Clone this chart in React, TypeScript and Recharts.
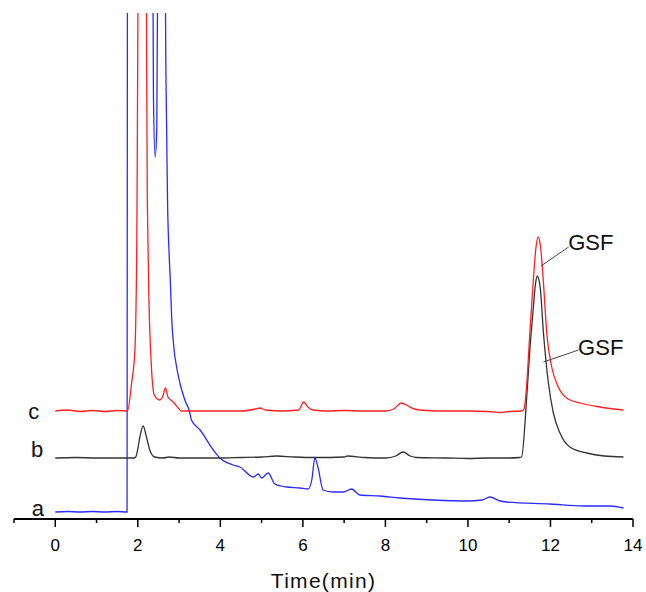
import { LineChart, Line, XAxis, YAxis, ReferenceLine, ReferenceDot } from 'recharts';

const FONT = 'Arial, "Liberation Sans", sans-serif';

// retention time (min) and detector signal above each trace's own baseline
const TIME_A = [
  0, 0.3, 0.6, 0.9, 1.2, 1.5, 1.74, 1.76, 2.1, 2.35, 2.38, 2.42, 2.46, 2.5, 2.58, 2.64,
  2.68, 2.7, 2.72, 2.755, 2.79, 2.82, 2.88, 2.94, 3.02, 3.14, 3.25, 3.3, 3.51, 3.83, 3.99,
  4.31, 4.47, 4.8, 4.92, 5.0, 5.16, 5.32, 5.6, 5.93, 6.13, 6.22, 6.29, 6.37, 6.49, 6.73,
  6.98, 7.18, 7.38, 7.87, 8.35, 9.15, 9.97, 10.35, 10.53, 10.78, 10.94, 11.99, 12.8, 13.44, 13.77,
];
const SIGNAL_A = [
  0, 0.5, 0, 0.5, 0, 0.5, 0, 1293, 1493, 693, 413, 355, 383, 693, 1293, 693,
  445, 379, 312, 262, 229, 195, 162, 145, 129, 112, 101, 92, 82, 62, 54,
  47, 45, 35, 38, 34, 39, 28, 25, 24, 23, 33, 54, 44, 22, 20,
  20, 23, 17, 16, 14, 12, 11, 12, 15, 11, 10, 8, 6, 6, 4,
];

const TIME_B = [
  0, 0.5, 1.0, 1.5, 1.9, 1.95, 2.0, 2.05, 2.13, 2.21, 2.29, 2.41, 2.6, 2.76, 3.0, 4.0,
  4.5, 5.0, 5.36, 5.8, 6.3, 7.0, 7.08, 7.5, 8.0, 8.25, 8.43, 8.6, 8.75, 9.5, 10.0, 10.5,
  11.0, 11.25, 11.3, 11.42, 11.5, 11.58, 11.64, 11.68, 11.75, 11.83, 11.95, 12.07, 12.23,
  12.47, 12.88, 13.3, 13.77,
];
const SIGNAL_B = [
  0, 0.5, 0, 0, 0, 1, 9, 21, 32, 21, 8, 1, 0, 1, 0, 0,
  0.5, 1, 2, 1, 0.5, 1, 2, 0.5, 0, 2, 6, 2, 0.5, 0, -0.5, 0,
  0, 0.5, 1, 58, 108, 148, 175, 182, 171, 125, 75, 45, 25,
  11, 5, 2, 1,
];

const TIME_C = [
  0, 0.3, 0.6, 0.9, 1.2, 1.5, 1.75, 1.85, 1.93, 1.97, 2.1, 2.23, 2.27, 2.33, 2.4, 2.53,
  2.6, 2.67, 2.73, 2.86, 2.98, 3.05, 3.5, 4.0, 4.5, 4.85, 4.95, 5.1, 5.5, 5.9, 6.02, 6.12,
  6.25, 6.6, 7.0, 7.5, 8.0, 8.2, 8.39, 8.55, 8.7, 9.0, 9.5, 10.0, 10.5, 10.8, 11.0, 11.3,
  11.36, 11.42, 11.5, 11.58, 11.65, 11.7, 11.76, 11.83, 11.91, 12.03, 12.19, 12.39, 12.72,
  13.2, 13.77,
];
const SIGNAL_C = [
  0, 1, -0.5, 0.5, -0.5, 0.5, 0, 28, 61, 144, 1300, 211, 111, 44, 16, 11,
  14, 23, 14, 9, 3, 0, 0, 0, 0, 2, 3, 1, 0, 1, 9, 4,
  1, 0, 0.5, 0, 0, 2, 8, 5, 2, 0.5, 0, 0, -0.5, -1.5, -0.5, 0,
  2, 24, 78, 128, 164, 174, 164, 128, 78, 44, 24, 13, 8,
  4, 1,
];

// vertical offsets used to stack the three chromatograms
const OFFSET_A = 7;
const OFFSET_B = 61;
const OFFSET_C = 108;

const X_TICKS = [-1, 0, 1, 2, 3, 4, 5, 6, 7, 8, 9, 10, 11, 12, 13, 14];
const TRACE_LABELS = ['a', 'b', 'c'];
const PEAK_LABEL = 'GSF';
const X_TITLE = 'Time(min)';

const toSeries = (t: number[], s: number[], off: number) => t.map((x, i) => ({ t: x, v: s[i] + off }));

const dataA = toSeries(TIME_A, SIGNAL_A, OFFSET_A);
const dataB = toSeries(TIME_B, SIGNAL_B, OFFSET_B);
const dataC = toSeries(TIME_C, SIGNAL_C, OFFSET_C);

function TimeTick({ x, y, payload }: any) {
  const v = payload.value;
  const major = v >= 0 && v % 2 === 0;
  return (
    <g>
      <line x1={x} y1={y} x2={x} y2={y + (major ? 8 : 4)} stroke="#000" strokeWidth={1.5} />
      {major && (
        <text x={x} y={y + 32} textAnchor="middle" fontSize={17} fontFamily={FONT} fill="#000">
          {v}
        </text>
      )}
    </g>
  );
}

const textShape = (txt: string, anchor: 'start' | 'middle') => (p: any) => (
  <text x={p.cx} y={p.cy} textAnchor={anchor} fontSize={22} fontFamily={FONT} fill="#111">
    {txt}
  </text>
);

export default function App() {
  return (
    <div style={{ position: 'absolute', left: 0, top: 0, background: '#fff' }}>
      <LineChart width={646} height={592} margin={{ top: 13, right: 13, bottom: 0, left: 14 }}>
        <XAxis
          dataKey="t"
          type="number"
          domain={[-1, 14]}
          ticks={X_TICKS}
          interval={0}
          tickSize={0}
          tickMargin={0}
          tickLine={false}
          tick={<TimeTick />}
          height={73}
          stroke="#000"
          strokeWidth={2}
          label={(p: any) => (
            <text
              x={p.viewBox.x + p.viewBox.width / 2}
              y={p.viewBox.y + 69}
              textAnchor="middle"
              fontSize={21}
              letterSpacing={1.3}
              fontFamily={FONT}
              fill="#111"
            >
              {X_TITLE}
            </text>
          )}
        />
        <YAxis hide type="number" domain={[0, 506]} allowDataOverflow />
        <Line data={dataA} dataKey="v" type="monotone" stroke="#2b2bff" strokeWidth={1.3} dot={false} isAnimationActive={false} />
        <Line data={dataB} dataKey="v" type="monotone" stroke="#333" strokeWidth={1.3} dot={false} isAnimationActive={false} />
        <Line data={dataC} dataKey="v" type="monotone" stroke="#ff2020" strokeWidth={1.3} dot={false} isAnimationActive={false} />

        <ReferenceLine segment={[{ x: 11.77, y: 253 }, { x: 12.44, y: 272 }]} stroke="#444" strokeWidth={1} />
        <ReferenceLine segment={[{ x: 11.83, y: 157 }, { x: 12.68, y: 169 }]} stroke="#444" strokeWidth={1} />
        <ReferenceDot x={12.43} y={269} r={0} shape={textShape(PEAK_LABEL, 'start')} />
        <ReferenceDot x={12.67} y={164} r={0} shape={textShape(PEAK_LABEL, 'start')} />

        <ReferenceDot x={-0.42} y={3} r={0} shape={textShape(TRACE_LABELS[0], 'middle')} />
        <ReferenceDot x={-0.44} y={62} r={0} shape={textShape(TRACE_LABELS[1], 'middle')} />
        <ReferenceDot x={-0.52} y={100} r={0} shape={textShape(TRACE_LABELS[2], 'middle')} />
      </LineChart>
    </div>
  );
}
